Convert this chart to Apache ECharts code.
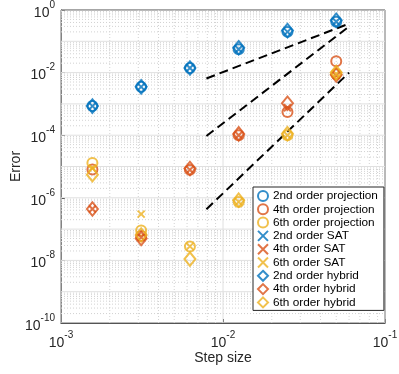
<!DOCTYPE html>
<html>
<head>
<meta charset="utf-8">
<script src="https://cdn.jsdelivr.net/npm/echarts@6/dist/echarts.min.js"></script>
<style>
  html, body { margin: 0; padding: 0; background: #fff; }
  #chart { width: 399px; height: 374px; }
</style>
</head>
<body>
<div id="chart"></div>
<script>
// step sizes (x)
const steps = [0.0015625, 0.003125, 0.00625, 0.0125, 0.025, 0.05];

// errors
const proj2 = [8.5e-4, 3.5e-3, 1.4e-2, 5.6e-2, 0.2, 0.42];
const proj4 = [8.0e-6, 6.0e-8, 7.8e-6, 1.0e-4, 5.5e-4, 2.3e-2];
const proj6 = [1.3e-5, 9.0e-8, 2.8e-8, 7.4e-7, 1.0e-4, 9.0e-3];
const sat2 = [8.5e-4, 3.5e-3, 1.4e-2, 5.6e-2, 0.2, 0.42];
const sat4 = [4.4e-7, 5.5e-8, 7.8e-6, 1.0e-4, 7.5e-4, 8.0e-3];
const sat6 = [9.0e-6, 3.0e-7, 2.8e-8, 7.4e-7, 1.0e-4, 9.0e-3];
const hyb2 = [8.5e-4, 3.5e-3, 1.4e-2, 6.2e-2, 0.22, 0.47];
const hyb4 = [4.4e-7, 5.0e-8, 8.6e-6, 1.1e-4, 1.05e-3, 8.5e-3];
const hyb6 = [5.5e-6, 6.5e-8, 1.1e-8, 8.4e-7, 1.12e-4, 1.0e-2];

// dashed slope guides (start/end)
const guideX = [0.0079, 0.06];
const guide2 = [6.5e-3, 0.366];
const guide4 = [9.4e-5, 0.297];
const guide5 = [4.3e-7, 1.0e-2];

const names = ['2nd order projection', '4th order projection', '6th order projection',
  '2nd order SAT', '4th order SAT', '6th order SAT',
  '2nd order hybrid', '4th order hybrid', '6th order hybrid'];

const colors = ['#0072BD', '#D95319', '#EDB120'];
const font = 'Liberation Sans, Arial, Helvetica, sans-serif';

const X_MIN = 1e-3, X_MAX = 1e-1, Y_MIN = 1e-10, Y_MAX = 1;

const pairs = (xs, ys) => xs.map((x, i) => [x, ys[i]]);

// grid line values (decades and 2..9 inside each decade)
const xMinor = [], yMinor = [], xMajor = [], yMajor = [];
for (let e = -3; e < -1; e++) {
  for (let k = 2; k <= 9; k++) xMinor.push(k * Math.pow(10, e));
}
for (let e = -10; e < 0; e++) {
  for (let k = 2; k <= 9; k++) yMinor.push(k * Math.pow(10, e));
}
for (let e = -3; e <= -1; e++) xMajor.push(Math.pow(10, e));
for (let e = -10; e <= 0; e++) yMajor.push(Math.pow(10, e));

// turn grid values into broken polyline data
const gridData = (xs, ys) => {
  const out = [];
  xs.forEach(v => { out.push([v, Y_MIN], [v, Y_MAX], [v, '-']); });
  ys.forEach(v => { out.push([X_MIN, v], [X_MAX, v], ['-', v]); });
  return out;
};

const supLabel = (v) => {
  const e = Math.round(Math.log10(v));
  return '{b|10}{s|' + e + '}';
};
const richSup = {
  b: { fontSize: 14, fontFamily: font, color: '#262626', lineHeight: 20, verticalAlign: 'bottom' },
  s: { fontSize: 10, fontFamily: font, color: '#262626', verticalAlign: 'top', lineHeight: 20 }
};

const markerStyle = (c) => ({ color: 'rgba(0,0,0,0)', borderColor: c, borderWidth: 2 });
const crossPath = 'path://M0,0L10,10M10,0L0,10';

const scatter = (name, ys, c, symbol, size) => ({
  name: name,
  type: 'scatter',
  data: pairs(steps, ys),
  symbol: symbol,
  symbolSize: size,
  itemStyle: markerStyle(c),
  emphasis: { disabled: true },
  z: 3
});

const guide = (ys) => ({
  type: 'line',
  data: pairs(guideX, ys),
  symbol: 'none',
  lineStyle: { color: '#000', width: 2, type: [9, 5] },
  z: 2,
  silent: true
});

const chart = echarts.init(document.getElementById('chart'), null, { renderer: 'canvas' });

chart.setOption({
  animation: false,
  backgroundColor: '#fff',
  grid: {
    left: 61, right: 14, top: 10, bottom: 51,
    outerBoundsMode: 'none',
    containLabel: false,
    show: true, borderColor: '#262626', borderWidth: 1, backgroundColor: 'transparent'
  },
  xAxis: {
    type: 'log',
    logBase: 10,
    min: X_MIN,
    max: X_MAX,
    interval: 1,
    name: 'Step size',
    nameLocation: 'middle',
    nameGap: 28,
    nameMoveOverlap: false,
    nameTextStyle: { fontSize: 14, fontFamily: font, color: '#262626' },
    axisLine: { lineStyle: { color: '#262626' } },
    axisTick: { inside: true, length: 4, lineStyle: { color: '#262626' } },
    axisLabel: { formatter: supLabel, rich: richSup, margin: 7 },
    splitLine: { show: false }
  },
  yAxis: {
    type: 'log',
    logBase: 10,
    min: Y_MIN,
    max: Y_MAX,
    interval: 2,
    name: 'Error',
    nameLocation: 'middle',
    nameGap: 38,
    nameMoveOverlap: false,
    nameTextStyle: { fontSize: 14, fontFamily: font, color: '#262626' },
    axisLine: { lineStyle: { color: '#262626' } },
    axisTick: { inside: true, length: 4, lineStyle: { color: '#262626' } },
    axisLabel: { formatter: supLabel, rich: richSup, margin: 6 },
    splitLine: { show: false }
  },
  legend: {
    data: names,
    orient: 'vertical',
    left: 253,
    top: 187,
    padding: [3, 6, 2, 4],
    itemWidth: 10,
    itemHeight: 10,
    itemGap: 1.3,
    backgroundColor: '#fff',
    borderColor: '#262626',
    borderWidth: 1,
    borderRadius: 0,
    textStyle: { fontSize: 11.8, fontFamily: font, color: '#000' },
    selectedMode: false
  },
  series: [
    {
      type: 'line',
      data: gridData(xMinor, yMinor),
      symbol: 'none',
      silent: true,
      connectNulls: false,
      lineStyle: { color: '#d2d2d2', width: 1, type: [1, 2] },
      z: 1
    },
    {
      type: 'line',
      data: gridData(xMajor, yMajor),
      symbol: 'none',
      silent: true,
      connectNulls: false,
      lineStyle: { color: '#e0e0e0', width: 1 },
      z: 1
    },
    guide(guide2),
    guide(guide4),
    guide(guide5),
    scatter(names[0], proj2, colors[0], 'circle', 10),
    scatter(names[1], proj4, colors[1], 'circle', 10),
    scatter(names[2], proj6, colors[2], 'circle', 10),
    scatter(names[3], sat2, colors[0], crossPath, 7),
    scatter(names[4], sat4, colors[1], crossPath, 7),
    scatter(names[5], sat6, colors[2], crossPath, 7),
    scatter(names[6], hyb2, colors[0], 'diamond', [11, 13.5]),
    scatter(names[7], hyb4, colors[1], 'diamond', [11, 13.5]),
    scatter(names[8], hyb6, colors[2], 'diamond', [11, 13.5])
  ]
});
</script>
</body>
</html>
